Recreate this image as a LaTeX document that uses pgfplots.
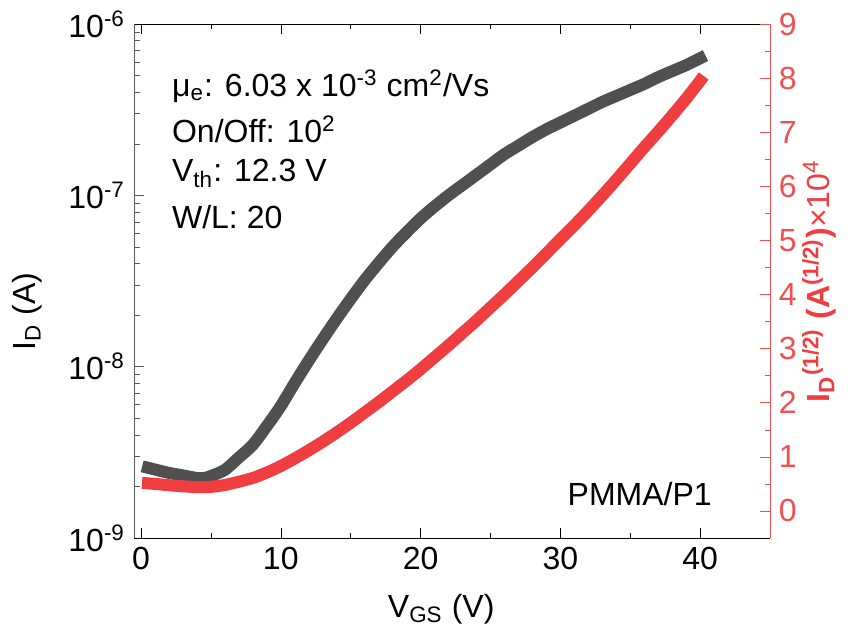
\documentclass[border=0pt]{standalone}
\usepackage{fontspec}
\setmainfont{Liberation Sans}
\usepackage{pgfplots}
\pgfplotsset{compat=1.18}
\definecolor{curvegray}{RGB}{80,80,80}
\definecolor{axgray}{RGB}{90,90,90}
\definecolor{curvered}{RGB}{240,62,64}
\definecolor{axred}{RGB}{240,80,80}
\newcommand\fs{\fontsize{12.8}{15.4}\selectfont}
\begin{document}
\begin{tikzpicture}
\pgfplotsset{
  common/.style={
    scale only axis, width=254.4pt, height=205.6pt,
    xmin=-0.5, xmax=45,
    tick align=inside,
    major tick length=4pt, minor tick length=2.2pt,
    every tick label/.append style={font=\fs},
    label style={font=\fs},
    /pgf/number format/assume math mode=true,
  }
}
\begin{axis}[
  common, name=ax,
  ymode=log, ymin=1e-9, ymax=1e-6,
  axis x line*=box, axis y line*=left,
  x axis line style={black, -},
  y axis line style={axgray, -},
  x tick style={black}, y tick style={axgray},
  xtick={0,10,20,30,40}, minor xtick={5,15,25,35},
  ytick={1e-9,1e-8,1e-7,1e-6},
  yticklabels={10\textsuperscript{-9},10\textsuperscript{-8},10\textsuperscript{-7},10\textsuperscript{-6}},
  minor ytick={2e-9,3e-9,4e-9,5e-9,6e-9,7e-9,8e-9,9e-9,
               2e-8,3e-8,4e-8,5e-8,6e-8,7e-8,8e-8,9e-8,
               2e-7,3e-7,4e-7,5e-7,6e-7,7e-7,8e-7,9e-7},
  xlabel={V\textsubscript{GS} (V)},
  ylabel={I\textsubscript{D} (A)},
  xlabel style={at={(axis description cs:0.483,-0.154)}, anchor=base},
  ylabel style={at={(axis description cs:-0.168,0.44)}, anchor=center},
  clip=false,
]
\addplot[curvegray, smooth, line width=4.8pt, line cap=rect, line join=round] coordinates {
(0.5,2.57e-9)(1,2.51e-9)(2,2.40e-9)(3,2.32e-9)(4,2.24e-9)(4.5,2.24e-9)
(5,2.30e-9)(6,2.50e-9)(7,2.95e-9)(8,3.50e-9)(9,4.50e-9)(10,5.89e-9)
(11,8.04e-9)(12,1.084e-8)(13,1.445e-8)(14,1.905e-8)(15,2.483e-8)
(16,3.199e-8)(17,4.027e-8)(18,5.012e-8)(19,6.095e-8)(20,7.328e-8)
(21,8.610e-8)(22,1.000e-7)(23,1.148e-7)(24,1.318e-7)(25,1.514e-7)
(26,1.738e-7)(27,1.950e-7)(28,2.188e-7)(29,2.427e-7)(30,2.661e-7)
(31,2.917e-7)(32,3.199e-7)(33,3.508e-7)(34,3.802e-7)(35,4.121e-7)
(36,4.467e-7)(37,4.898e-7)(38,5.309e-7)(39,5.754e-7)(40,6.310e-7)
};
\node[anchor=base west, font=\fs] at (rel axis cs:0.046,0.859)
  {μ\textsubscript{e}: 6.03 x 10\textsuperscript{-3} cm\textsuperscript{2}/Vs};
\node[anchor=base west, font=\fs] at (rel axis cs:0.046,0.769) {On/Off: 10\textsuperscript{2}};
\node[anchor=base west, font=\fs] at (rel axis cs:0.046,0.693) {V\textsubscript{th}: 12.3 V};
\node[anchor=base west, font=\fs] at (rel axis cs:0.046,0.603) {W/L: 20};
\node[anchor=base west, font=\fs] at (rel axis cs:0.668,0.064) {PMMA/P1};
\end{axis}
\begin{axis}[
  common,
  ymin=-0.5, ymax=9,
  axis x line=none, axis y line*=right,
  y axis line style={axred, -},
  y tick style={axred},
  yticklabel style={text=axred},
  ytick={0,1,...,9}, minor ytick={0.5,1.5,...,8.5},
  ylabel={\textbf{I\textsubscript{D}\textsuperscript{(1/2)} (A\textsuperscript{(1/2)})}×10\textsuperscript{4}},
  ylabel style={at={(axis description cs:1.077,0.5)}, anchor=center, text=curvered},
]
\addplot[curvered, smooth, line width=4.8pt, line cap=rect, line join=round] coordinates {
(0.5,0.51)(1,0.50)(2,0.475)(3,0.455)(4,0.44)(4.5,0.44)(5,0.445)(6,0.48)
(7,0.54)(8,0.61)(9,0.71)(10,0.83)(11,0.97)(12,1.12)(13,1.28)(14,1.45)
(15,1.63)(16,1.82)(17,2.01)(18,2.21)(19,2.41)(20,2.62)(21,2.84)(22,3.06)
(23,3.29)(24,3.52)(25,3.76)(26,4.00)(27,4.25)(28,4.50)(29,4.76)(30,5.02)
(31,5.28)(32,5.55)(33,5.83)(34,6.12)(35,6.42)(36,6.72)(37,7.01)(38,7.31)
(39,7.62)(40,7.95)
};
\end{axis}
\path ([xshift=-53.6pt,yshift=-36pt]ax.south west) rectangle ([xshift=35.6pt,yshift=9.6pt]ax.north east);
\end{tikzpicture}
\end{document}
